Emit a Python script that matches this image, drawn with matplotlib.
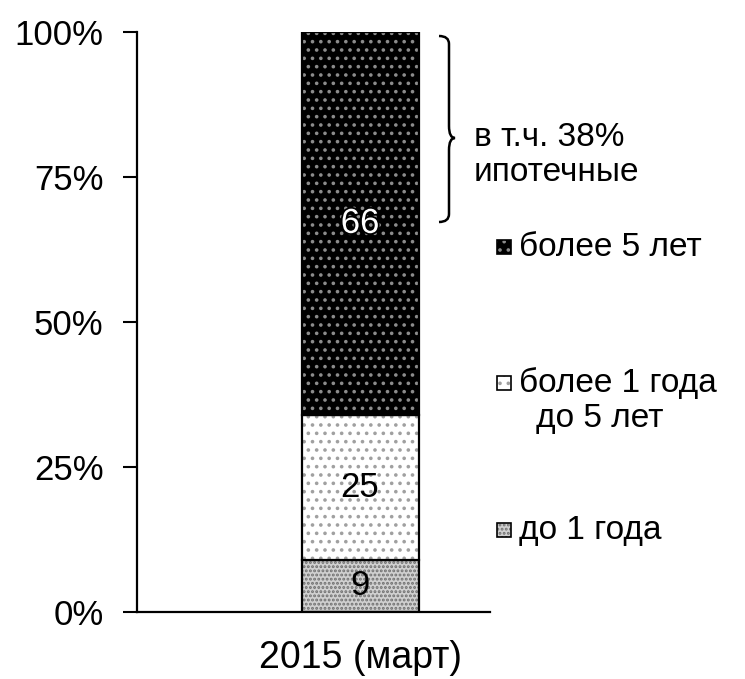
import matplotlib
matplotlib.use('Agg')
import matplotlib.pyplot as plt
import matplotlib.patheffects as pe
from matplotlib.patches import Rectangle, PathPatch
from matplotlib.path import Path

plt.rcParams['font.family'] = ['Liberation Sans', 'DejaVu Sans']
plt.rcParams['hatch.linewidth'] = 1.4

# data
category = '2015 (март)'
series = ['до 1 года', 'более 1 года\nдо 5 лет', 'более 5 лет']
values = [9, 25, 66]
ticks = [0, 25, 50, 75, 100]
note = 'в т.ч. 38%\nипотечные'

faces = ['#d0d0d0', 'white', 'black']
hatch_cols = ['#6f6f6f', '#a0a0a0', '#8c8c8c']
hatches = ['....', '..', '..']
text_cols = ['black', 'black', 'white']

W, H = 745, 679
fig = plt.figure(figsize=(W / 100, H / 100), dpi=100)
ax = fig.add_axes([137 / W, 1 - 612 / H, (490 - 137) / W, (612 - 32) / H])

def fx(x):
    return x / W

def fy(y):
    return 1 - y / H

bottom = 0
for v, fc, hc, h, tc in zip(values, faces, hatch_cols, hatches, text_cols):
    ax.bar(0, v, width=1, bottom=bottom, color=fc, edgecolor=hc, hatch=h, linewidth=0)
    ax.bar(0, v, width=1, bottom=bottom, fill=False, edgecolor='black', linewidth=1.6)
    t = ax.text(0, bottom + v / 2, str(v), ha='center', va='center', fontsize=25, color=tc)
    if tc == 'white':
        t.set_path_effects([pe.withStroke(linewidth=2.5, foreground='black')])
    bottom += v

ax.set_xlim(-223 / 117, 130 / 117)
ax.set_ylim(0, 100)
ax.set_yticks(ticks)
ax.set_yticklabels([f'{t}%' for t in ticks], fontsize=25)
ax.set_xticks([0])
ax.set_xticklabels([category], fontsize=27)
ax.tick_params(axis='x', length=0, pad=20)
ax.tick_params(axis='y', length=10, width=1.5, pad=14, direction='out')
for s in ['top', 'right']:
    ax.spines[s].set_visible(False)
ax.spines['left'].set_linewidth(1.6)
ax.spines['bottom'].set_linewidth(1.6)

# legend (manual, reversed order like the original)
leg_y = [530, 383, 247]
for i, (lab, y) in enumerate(zip(series, leg_y)):
    fig.patches.append(Rectangle((fx(497), fy(y + 7)), 14 / W, 14 / H, transform=fig.transFigure,
                                 facecolor=faces[i], edgecolor=hatch_cols[i], hatch=hatches[i],
                                 linewidth=0))
    fig.patches.append(Rectangle((fx(497), fy(y + 7)), 14 / W, 14 / H, transform=fig.transFigure,
                                 fill=False, edgecolor='black', linewidth=1.2))
    lines = lab.split('\n')
    fig.text(fx(519), fy(y), lines[0], fontsize=24, va='center', ha='left')
    if len(lines) > 1:
        fig.text(fx(536), fy(y + 36), lines[1], fontsize=24, va='center', ha='left')

# brace and note
x0, x1 = 439, 455
ytop, ymid, ybot = 36, 138, 222
verts = [(x0, ytop), (x1 - 6, ytop), (x1 - 6, ytop + 8), (x1 - 6, ytop + 20),
         (x1 - 6, ymid - 12), (x1 - 6, ymid), (x1, ymid),
         (x1 - 6, ymid), (x1 - 6, ymid + 12),
         (x1 - 6, ybot - 20), (x1 - 6, ybot - 8), (x1 - 6, ybot), (x0, ybot)]
codes = [Path.MOVETO, Path.CURVE3, Path.CURVE3, Path.LINETO,
         Path.LINETO, Path.CURVE3, Path.CURVE3,
         Path.CURVE3, Path.CURVE3,
         Path.LINETO, Path.LINETO, Path.CURVE3, Path.CURVE3]
verts = [(fx(x), fy(y)) for x, y in verts]
fig.patches.append(PathPatch(Path(verts, codes), transform=fig.transFigure, fill=False,
                             edgecolor='black', linewidth=1.8))
fig.text(fx(474), fy(155), note, fontsize=24, va='center', ha='left', linespacing=1.2)

fig.savefig('out.png', dpi=100)
